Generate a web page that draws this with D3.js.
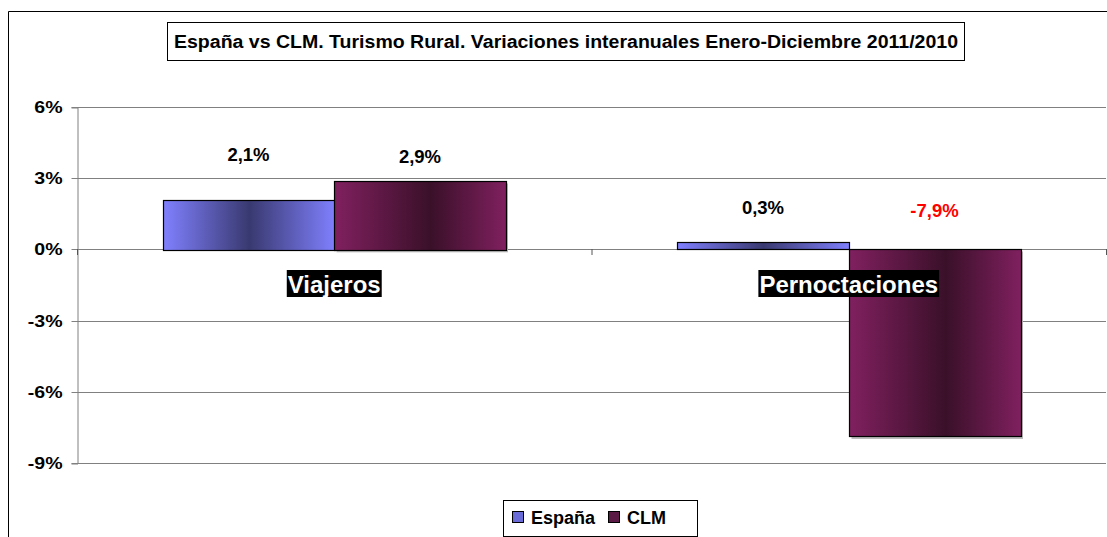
<!DOCTYPE html>
<html><head><meta charset="utf-8">
<script src="https://cdn.jsdelivr.net/npm/d3@7"></script>
<style>body{margin:0;background:#fff}svg{display:block}text{font-family:"Liberation Sans",Arial,sans-serif;font-weight:bold}</style>
</head><body>
<script>
const categories = ["Viajeros", "Pernoctaciones"];
const seriesNames = ["España", "CLM"];
const espana = [2.1, 0.3];
const clm = [2.9, -7.9];
const espanaLabelAt = [4.0, 1.75];
const clmLabelAt = [3.9, 1.65];
const yTicks = [6, 3, 0, -3, -6, -9];
const title = "España vs CLM. Turismo Rural. Variaciones interanuales Enero-Diciembre 2011/2010";

const W = 1107, H = 537;
const svg = d3.select("body").append("svg").attr("width", W).attr("height", H);
const defs = svg.append("defs");
function grad(id, light, dark, mid) {
  const g = defs.append("linearGradient").attr("id", id).attr("x1", "0").attr("x2", "1").attr("y1", "0").attr("y2", "0");
  g.append("stop").attr("offset", "0").attr("stop-color", light);
  g.append("stop").attr("offset", mid).attr("stop-color", dark);
  g.append("stop").attr("offset", "1").attr("stop-color", light);
}
grad("gEs", "#8080ff", "#393970", 0.5);
grad("gClm", "#80205f", "#3a1029", 0.56);
const fills = ["url(#gEs)", "url(#gClm)"];
const legendFills = ["#6a6ad8", "#5a1a45"];

// outer frame
svg.append("path").attr("d", `M8.5,${H} V11.5 H${W}`).attr("fill", "none").attr("stroke", "#000").attr("stroke-width", 1);

const m = {left: 77, right: 1106, top: 107, bottom: 463};
const y = d3.scaleLinear().domain([-9, 6]).range([m.bottom, m.top]);
const x0 = d3.scaleBand().domain(categories).range([m.left, m.right]).paddingInner(0).paddingOuter(0);
const x1 = d3.scaleBand().domain(seriesNames).range([0, x0.bandwidth()]).paddingInner(0).paddingOuter(0.5);

// gridlines
svg.append("g").selectAll("line").data(yTicks).join("line")
  .attr("x1", m.left).attr("x2", m.right)
  .attr("y1", d => Math.round(y(d)) + 0.5).attr("y2", d => Math.round(y(d)) + 0.5)
  .attr("stroke", "#808080").attr("stroke-width", 1);

// y axis
const yAxis = svg.append("g").attr("transform", `translate(${m.left + 0.5},0.5)`)
  .call(d3.axisLeft(y).tickValues(yTicks).tickSize(6).tickPadding(9).tickFormat(d => d + "%"));
yAxis.select(".domain").attr("stroke", "#808080");
yAxis.selectAll(".tick line").attr("stroke", "#808080");
yAxis.selectAll(".tick").attr("transform", d => `translate(0,${Math.round(y(d))})`);
yAxis.selectAll(".tick text")
  .attr("font-size", 17).attr("fill", "#000").attr("font-family", "Liberation Sans, Arial").attr("font-weight", "bold")
  .attr("x", 0).attr("dy", "0.35em").attr("transform", "translate(-15,0) scale(1.15,1)");

// category ticks on zero line
svg.append("g").selectAll("line").data(d3.range(categories.length + 1)).join("line")
  .attr("x1", i => m.left + i * x0.bandwidth() + 0.5).attr("x2", i => m.left + i * x0.bandwidth() + 0.5)
  .attr("y1", Math.round(y(0))).attr("y2", Math.round(y(0)) + 6)
  .attr("stroke", "#555");

// bars
const series = [espana, clm];
const labelAt = [espanaLabelAt, clmLabelAt];
categories.forEach((c, ci) => {
  seriesNames.forEach((s, si) => {
    const v = series[si][ci];
    const xx = x0(c) + x1(s);
    const y0 = y(Math.max(0, v)), y1 = y(Math.min(0, v));
    if (si === 1) {
      svg.append("rect").attr("x", Math.round(xx) + 2.5).attr("y", Math.round(y0) + 2.5)
        .attr("width", x1.bandwidth()).attr("height", y1 - y0).attr("fill", "#bbb");
    }
    svg.append("rect").attr("x", Math.round(xx) + 0.5).attr("y", Math.round(y0) + 0.5)
      .attr("width", Math.round(x1.bandwidth())).attr("height", Math.max(1, Math.round(y1 - y0)))
      .attr("fill", fills[si]).attr("stroke", "#000").attr("stroke-width", 1.2);
    svg.append("text").attr("x", xx + x1.bandwidth() / 2).attr("y", y(labelAt[si][ci]))
      .attr("text-anchor", "middle").attr("dominant-baseline", "central")
      .attr("font-size", 18.5).attr("fill", v < 0 ? "#ff0000" : "#000")
      .text(String(v.toFixed(1)).replace(".", ",") + "%");
  });
});

// category labels with black background
categories.forEach(c => {
  const cx = x0(c) + x0.bandwidth() / 2;
  const g = svg.append("g");
  const t = g.append("text").attr("x", cx).attr("y", 284).attr("text-anchor", "middle")
    .attr("dominant-baseline", "central").attr("font-size", 24)
    .attr("fill", "#fff").text(c);
  const bb = t.node().getBBox();
  g.insert("rect", "text").attr("x", bb.x - 1).attr("y", 270).attr("width", bb.width + 2).attr("height", 27).attr("fill", "#000");
});

// title
const tg = svg.append("g");
tg.append("rect").attr("x", 167.5).attr("y", 22.5).attr("width", 797).attr("height", 38)
  .attr("fill", "#fff").attr("stroke", "#000").attr("stroke-width", 1);
tg.append("text").attr("x", 174).attr("y", 42)
  .attr("dominant-baseline", "central").attr("font-size", 18).attr("fill", "#000")
  .attr("textLength", 784).attr("lengthAdjust", "spacingAndGlyphs").text(title);

// legend
const lg = svg.append("g");
lg.append("rect").attr("x", 503.5).attr("y", 500.5).attr("width", 194).attr("height", 36)
  .attr("fill", "#fff").attr("stroke", "#000");
const items = [{n: seriesNames[0], x: 512}, {n: seriesNames[1], x: 608}];
items.forEach((it, i) => {
  lg.append("rect").attr("x", it.x + 0.5).attr("y", 511.5).attr("width", 11).attr("height", 11)
    .attr("fill", legendFills[i]).attr("stroke", "#000");
  lg.append("text").attr("x", it.x + 19).attr("y", 518).attr("dominant-baseline", "central")
    .attr("font-size", 18).attr("fill", "#000").text(it.n);
});
</script>
</body></html>
